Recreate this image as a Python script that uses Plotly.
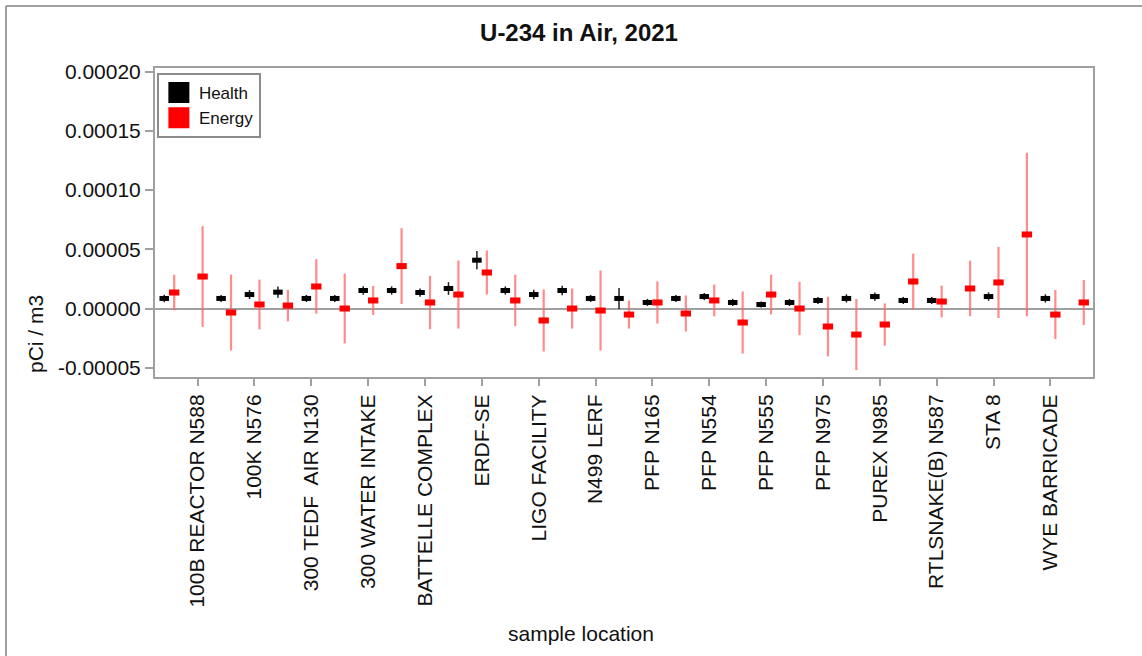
import plotly.graph_objects as go

# ---- data ----
# 33 category slots; only every second one is labelled on the axis
categories = [
    "(unlabeled 1)", "100B REACTOR N588", "(unlabeled 2)", "100K N576",
    "(unlabeled 3)", "300 TEDF  AIR N130", "(unlabeled 4)", "300 WATER INTAKE",
    "(unlabeled 5)", "BATTELLE COMPLEX", "(unlabeled 6)", "ERDF-SE",
    "(unlabeled 7)", "LIGO FACILITY", "(unlabeled 8)", "N499 LERF",
    "(unlabeled 9)", "PFP N165", "(unlabeled 10)", "PFP N554",
    "(unlabeled 11)", "PFP N555", "(unlabeled 12)", "PFP N975",
    "(unlabeled 13)", "PUREX N985", "(unlabeled 14)", "RTLSNAKE(B) N587",
    "(unlabeled 15)", "STA 8", "(unlabeled 16)", "WYE BARRICADE",
    "(unlabeled 17)",
]
tick_labels = [
    "100B REACTOR N588", "100K N576", "300 TEDF  AIR N130", "300 WATER INTAKE",
    "BATTELLE COMPLEX", "ERDF-SE", "LIGO FACILITY", "N499 LERF",
    "PFP N165", "PFP N554", "PFP N555", "PFP N975",
    "PUREX N985", "RTLSNAKE(B) N587", "STA 8", "WYE BARRICADE",
]

health = [8.5e-6, None, 8.5e-6, 1.18e-5, 1.38e-5, 8.5e-6, 8.5e-6, 1.52e-5,
          1.52e-5, 1.35e-5, 1.69e-5, 4.08e-5, 1.52e-5, 1.18e-5, 1.52e-5, 8.5e-6,
          8.5e-6, 5.1e-6, 8.5e-6, 1.01e-5, 5.1e-6, 3.4e-6, 5.1e-6, 6.8e-6,
          8.5e-6, 1.01e-5, 6.8e-6, 6.8e-6, None, 1.01e-5, None, 8.5e-6, None]
health_err = [3.2e-6, None, 3.0e-6, 3.8e-6, 4.8e-6, 3.0e-6, 3.0e-6, 3.5e-6,
              3.5e-6, 3.5e-6, 5.4e-6, 7.7e-6, 3.5e-6, 4.0e-6, 4.0e-6, 3.0e-6,
              8.9e-6, 3.0e-6, 3.0e-6, 3.0e-6, 3.0e-6, 2.5e-6, 3.0e-6, 3.0e-6,
              3.5e-6, 3.5e-6, 3.0e-6, 3.0e-6, None, 3.5e-6, None, 3.5e-6, None]

energy = [1.35e-5, 2.7e-5, -3.4e-6, 3.4e-6, 2.5e-6, 1.86e-5, 0.0, 6.8e-6,
          3.58e-5, 5.1e-6, 1.18e-5, 3.04e-5, 6.8e-6, -1.01e-5, 0.0, -1.7e-6,
          -5.1e-6, 5.1e-6, -4.2e-6, 6.8e-6, -1.18e-5, 1.18e-5, 0.0, -1.52e-5,
          -2.2e-5, -1.35e-5, 2.28e-5, 5.9e-6, 1.69e-5, 2.2e-5, 6.25e-5, -5.1e-6,
          5.1e-6]
energy_err = [1.5e-5, 4.25e-5, 3.2e-5, 2.1e-5, 1.33e-5, 2.3e-5, 2.95e-5, 1.23e-5,
              3.2e-5, 2.25e-5, 2.87e-5, 1.86e-5, 2.17e-5, 2.62e-5, 1.69e-5, 3.38e-5,
              1.18e-5, 1.78e-5, 1.52e-5, 1.34e-5, 2.62e-5, 1.68e-5, 2.25e-5, 2.52e-5,
              3.0e-5, 1.78e-5, 2.35e-5, 1.34e-5, 2.34e-5, 3.0e-5, 6.9e-5, 2.07e-5,
              1.9e-5]

y_tickvals = [-0.00005, 0.0, 0.00005, 0.0001, 0.00015, 0.0002]
y_ticktext = ["-0.00005", "0.00000", "0.00005", "0.00010", "0.00015", "0.00020"]

# ---- figure ----
FONT = "Liberation Sans, Arial, sans-serif"
GRAY = "#a0a0a0"
L, R, T, B = 155, 1093, 68, 377          # plot-area edges in page pixels
PW, PH = R - L, B - T


def px(xp):
    return (xp - L) / PW


def py(yp):
    return (B - yp) / PH


fig = go.Figure()
fig.add_trace(go.Scatter(
    x=categories, y=health, mode="markers", name="Health", showlegend=False,
    offsetgroup="h",
    marker=dict(symbol="line-ew", size=6.8, line=dict(color="black", width=5)),
    error_y=dict(type="data", array=health_err, visible=True,
                 color="#202020", thickness=1.5, width=0),
))
fig.add_trace(go.Scatter(
    x=categories, y=energy, mode="markers", name="Energy", showlegend=False,
    offsetgroup="e",
    marker=dict(symbol="line-ew", size=7.4, line=dict(color="#ff0000", width=6)),
    error_y=dict(type="data", array=energy_err, visible=True,
                 color="rgba(255,100,100,0.75)", thickness=2.2, width=0),
))
# legend entries (square swatches)
fig.add_trace(go.Scatter(
    x=[None], y=[None], mode="markers", name="Health", offsetgroup="h",
    marker=dict(symbol="square", size=16, color="black",
                line=dict(color="black", width=5)),
))
fig.add_trace(go.Scatter(
    x=[None], y=[None], mode="markers", name="Energy", offsetgroup="e",
    marker=dict(symbol="square", size=16, color="#ff0000",
                line=dict(color="#ff0000", width=5)),
))

fig.update_layout(
    width=1142, height=656,
    margin=dict(l=L, r=1142 - R, t=T, b=656 - B),
    paper_bgcolor="white", plot_bgcolor="white",
    font=dict(family=FONT, size=21, color="#111111"),
    scattermode="group", scattergap=0.3,
    title=dict(text="<b>U-234 in Air, 2021</b>", font=dict(size=24, color="#111111"),
               xref="container", x=579 / 1142, xanchor="center",
               yref="container", y=1 - 33 / 656, yanchor="middle"),
    xaxis=dict(type="category", categoryorder="array", categoryarray=categories,
               range=[-0.5, len(categories) - 0.5],
               tickmode="array", tickvals=tick_labels, ticktext=tick_labels,
               tickangle=-90, ticks="outside", ticklen=7, tickwidth=2, tickcolor=GRAY,
               showline=True, linecolor=GRAY, linewidth=2, mirror=True,
               showgrid=False, zeroline=False, tickfont=dict(size=21)),
    yaxis=dict(range=[-5.78e-5, 2.03e-4], tickmode="array",
               tickvals=y_tickvals, ticktext=y_ticktext,
               ticks="outside", ticklen=8, tickwidth=2, tickcolor=GRAY,
               showline=True, linecolor=GRAY, linewidth=2, mirror=True,
               showgrid=False, zeroline=True, zerolinecolor=GRAY, zerolinewidth=2,
               tickfont=dict(size=21)),
    legend=dict(x=0.002, y=py(73), xanchor="left", yanchor="top",
                bordercolor="#8c8c8c", borderwidth=2, bgcolor="white",
                font=dict(size=17), tracegroupgap=0),
    annotations=[
        dict(text="pCi / m3", textangle=-90, xref="paper", yref="paper",
             x=px(35), y=py(334), xanchor="center",
             yanchor="middle", showarrow=False, font=dict(size=21)),
        dict(text="sample location", xref="paper", yref="paper",
             x=px(581), y=py(633), xanchor="center",
             yanchor="middle", showarrow=False, font=dict(size=21)),
    ],
    shapes=[
        dict(type="line", xref="paper", yref="paper",
             x0=px(6), x1=px(1142), y0=py(6), y1=py(6),
             line=dict(color=GRAY, width=2)),
        dict(type="line", xref="paper", yref="paper",
             x0=px(6), x1=px(6), y0=py(6), y1=py(656),
             line=dict(color=GRAY, width=2)),
    ],
)

fig.write_html("out.html", config={"displayModeBar": False},
               post_script="document.body.style.margin='0';")
